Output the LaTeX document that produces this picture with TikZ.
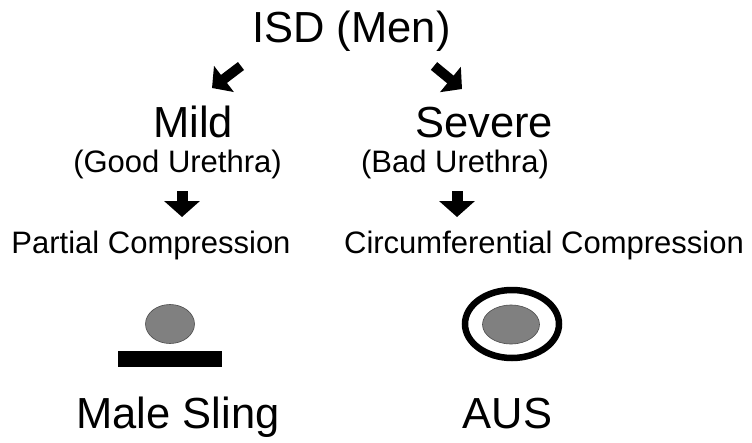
\documentclass[tikz,border=0pt]{standalone}
\usepackage{fontspec}
\setmainfont{Liberation Sans}
\usetikzlibrary{arrows.meta,shapes.geometric}
\definecolor{uregray}{RGB}{128,128,128}
\tikzset{
  bigtext/.style={font=\fontsize{43.5}{43.5}\selectfont, anchor=base, inner sep=0pt},
  smalltext/.style={font=\fontsize{31}{31}\selectfont, anchor=base, inner sep=0pt},
  blockarrow/.style={line width=11pt, -{Triangle[width=35pt,length=16pt]}},
  diagarrow/.style={line width=10pt, -{Triangle[width=32pt,length=15pt]}},
  urethra/.style={ellipse, draw=black!70, line width=0.6pt, fill=uregray, inner sep=0pt},
}
\begin{document}
\begin{tikzpicture}[x=1pt,y=-1pt]
\useasboundingbox[fill=white] (0,0) rectangle (752,442);
% texts
\node[bigtext] (isd) at (351.5,42) {ISD (Men)};
\node[bigtext] (mild) at (193,137) {Mild};
\node[bigtext] (severe) at (484,137) {Severe};
\node[smalltext] (good) at (177.5,172) {(Good Urethra)};
\node[smalltext] (bad) at (455,172) {(Bad Urethra)};
\node[smalltext] (partial) at (151,253) {Partial Compression};
\node[smalltext] (circ) at (544,253) {Circumferential Compression};
\node[bigtext] (sling) at (178,428) {Male Sling};
\node[bigtext] (aus) at (507.5,428) {AUS};
% arrow end points
\coordinate (l1s) at (241,66);
\coordinate (l1e) at (212,88);
\coordinate (r1s) at (434,66);
\coordinate (r1e) at (462,89);
\coordinate (l2s) at (182,191);
\coordinate (l2e) at (182,217);
\coordinate (r2s) at (457,191);
\coordinate (r2e) at (457,217);
\draw[diagarrow] (l1s) -- (l1e);
\draw[diagarrow] (r1s) -- (r1e);
\draw[blockarrow] (l2s) -- (l2e);
\draw[blockarrow] (r2s) -- (r2e);
% male sling
\node[urethra, minimum width=49pt, minimum height=39pt] (u1) at (170,324) {};
\node[rectangle, fill=black, minimum width=104pt, minimum height=16pt, inner sep=0pt] (bar) at (170,359) {};
% AUS
\node[ellipse, draw=black, line width=6.5pt, minimum width=94pt, minimum height=68pt, inner sep=0pt] (ring) at (512,324) {};
\node[urethra, minimum width=57pt, minimum height=39pt] (u2) at (511,324.5) {};
\end{tikzpicture}
\end{document}
